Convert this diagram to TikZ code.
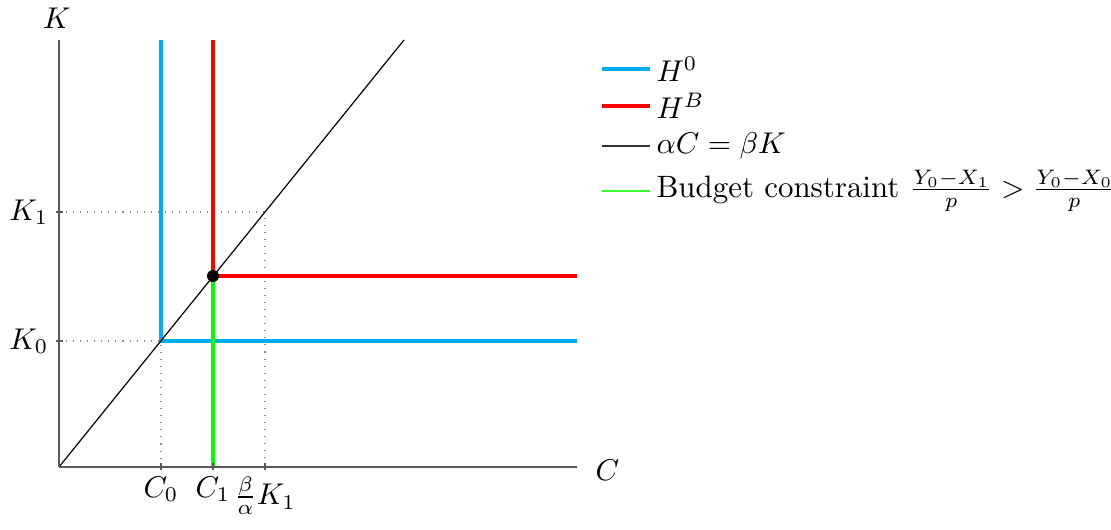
\documentclass[tikz,border=0pt]{standalone}
\usetikzlibrary{positioning}
\definecolor{HzeroBlue}{HTML}{00AEEF}
\definecolor{HbRed}{HTML}{FF0000}
\definecolor{BudgetGreen}{HTML}{00FF00}
\begin{document}
\begin{tikzpicture}[x=0.3333pt,y=0.3333pt,every node/.style={font=\fontsize{10.3}{12.4}\selectfont}]
    \tikzset{axisline/.style={draw=black!65,line width=0.55pt},
      guide/.style={draw=black!45,dotted,line width=0.35pt},
      hcurve/.style={line width=1.1pt},
      ticklbl/.style={inner sep=2pt}}
    \useasboundingbox (-59,-62) rectangle (1052,467);
    % guides
    \draw[guide] (0,255) -- (206,255) -- (206,0);
    \draw[guide] (0,126) -- (102,126) -- (102,0);
    \draw[guide] (154,0) -- (154,191);
    % curves
    \draw[hcurve,HzeroBlue] (102,427) -- (102,126) -- (518,126);
    \draw[hcurve,HbRed] (154,427) -- (154,191) -- (518,191);
    \draw[hcurve,BudgetGreen] (154,0) -- (154,191);
    \draw[black,line width=0.4pt] (0,0) -- (345,427);
    \fill (154,191) circle (6);
    % axes
    \draw[axisline] (0,0) -- (518,0);
    \draw[axisline] (0,0) -- (0,427);
    \foreach \xt in {102,154,206} \draw[axisline] (\xt,-3) -- (\xt,4);
    \foreach \yt in {126,255} \draw[axisline] (-3,\yt) -- (4,\yt);
    \node[anchor=west] (clbl) at (526,-3) {$C$};
    \node (klbl) at (-2,449) {$K$};
    \node[ticklbl,anchor=east] (k1) at (-4,255) {$K_1$};
    \node[ticklbl,anchor=east] (k0) at (-4,126) {$K_0$};
    \node[ticklbl,anchor=north] (c0) at (102,-3) {$C_0$};
    \node[ticklbl,anchor=north] (c1) at (154,-3) {$C_1$};
    \node[ticklbl,anchor=north] (bk1) at (206,-3) {$\frac{\beta}{\alpha}K_1$};
    % legend
    \draw[hcurve,HzeroBlue] (543,398) -- (591,398);
    \node[anchor=west,inner sep=1pt] (lg0) at (594,398) {$H^0$};
    \draw[hcurve,HbRed] (543,361) -- (591,361);
    \node[anchor=west,inner sep=1pt] (lgb) at (594,361) {$H^B$};
    \draw[black!80,line width=0.4pt] (543,321) -- (591,321);
    \node[anchor=west,inner sep=1pt] (lgl) at (594,321) {$\alpha C=\beta K$};
    \draw[BudgetGreen!80,line width=0.35pt] (543,276) -- (591,276);
    \node[anchor=west,inner sep=1pt] (lgg) at (594,276) {Budget constraint $\frac{Y_0-X_1}{p}>\frac{Y_0-X_0}{p}$};
  \end{tikzpicture}
\end{document}
